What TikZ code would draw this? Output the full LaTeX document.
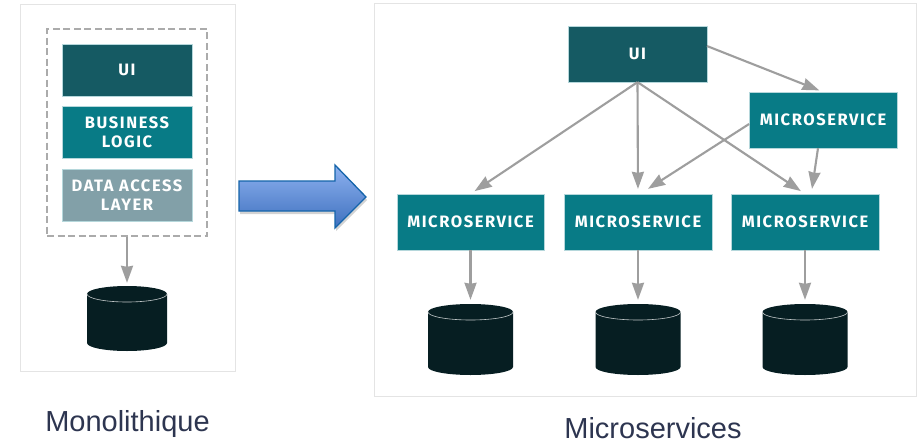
\documentclass[tikz,border=0pt]{standalone}
\usepackage{fontspec}
\setmainfont{Liberation Sans}
\newfontfamily\boxfont[LetterSpace=9.5]{Fira Sans}
\usetikzlibrary{shadows,calc,arrows.meta}
\definecolor{uicol}{HTML}{155A63}
\definecolor{svc}{HTML}{087B86}
\definecolor{dal}{HTML}{82A0A8}
\definecolor{dbcol}{HTML}{061E22}
\definecolor{panelline}{HTML}{E4E4E4}
\definecolor{dashcol}{HTML}{ABABAB}
\definecolor{arrowcol}{HTML}{9E9E9E}
\definecolor{captioncol}{HTML}{2D3550}
\tikzset{
  panel/.style={draw=panelline,line width=0.9pt,fill=white},
  tier/.style={rectangle,inner sep=0pt,minimum width=130.5pt,minimum height=52pt,align=center,text=white,font=\boxfont\bfseries\fontsize{16.5}{18.5}\selectfont,draw=white!70!svc,line width=0.3pt},
  uibox/.style={tier,fill=uicol},
  logicbox/.style={tier,fill=svc},
  dalbox/.style={tier,fill=dal},
  msbox/.style={tier,fill=svc,minimum width=147.5pt,minimum height=56pt},
  uibig/.style={tier,fill=uicol,minimum width=138.5pt,minimum height=56pt},
  conn/.style={draw=arrowcol,line width=2.1pt,-{Stealth[length=17pt,width=12pt,inset=1pt]}},
  dbbox/.style={rectangle,inner sep=0pt,draw=none},
  caption/.style={font=\fontsize{29}{32}\selectfont,text=captioncol,inner sep=0pt,anchor=base},
}
% name, centre x, top y, half width, total height
\newcommand{\dbcyl}[5]{%
  \fill[dbcol] (#2-#4,#3+8) arc[start angle=180,end angle=0,x radius=#4pt,y radius=8pt]
     -- (#2+#4,#3+#5-8) arc[start angle=0,end angle=-180,x radius=#4pt,y radius=8pt] -- cycle;
  \draw[white!75!dbcol,line width=0.6pt] (#2-#4,#3+8) arc[start angle=180,end angle=360,x radius=#4pt,y radius=8pt];
  \node[dbbox,minimum width=2*#4 pt,minimum height=#5 pt] (#1) at (#2,#3+#5/2) {};
}
\begin{document}
\begin{tikzpicture}[x=1pt,y=-1pt]
\useasboundingbox (0,0) rectangle (919,442);
% panels
\draw[panel] (20.5,4.5) rectangle (235,371.5);
\draw[panel] (374,3.5) rectangle (916,396);
% monolith
\node[uibox] (lui) at (127,70) {UI};
\node[logicbox] (lbl) at (127,132.5) {BUSINESS\\LOGIC};
\node[dalbox] (ldal) at (127,195) {DATA ACCESS\\LAYER};
\node[rectangle,draw=dashcol,line width=1.3pt,dash pattern=on 7pt off 3.5pt,minimum width=160pt,minimum height=207pt,inner sep=0pt] (ldash) at (127,132.5) {};
\dbcyl{ldb}{127}{286}{40}{65}
\draw[conn,shorten >=3pt] (ldash.south) -- (ldb.north);
% big arrow
\path[draw=black!0,drop shadow={shadow xshift=1pt,shadow yshift=-3pt,opacity=.35}] (239,181) -- (335,181) -- (335,165) -- (366,197) -- (335,228) -- (335,211) -- (239,211) -- cycle;
\path[draw={rgb,255:red,20;green,100;blue,170},line width=1.3pt,top color={rgb,255:red,142;green,178;blue,240},bottom color={rgb,255:red,62;green,112;blue,190},shading angle=0] (239,181) -- (335,181) -- (335,165) -- (366,197) -- (335,228) -- (335,211) -- (239,211) -- cycle;
% microservices
\node[uibig] (ui) at (637.5,54) {UI};
\node[msbox] (m4) at (823,120) {MICROSERVICE};
\node[msbox] (m1) at (470.5,222) {MICROSERVICE};
\node[msbox] (m2) at (638,222) {MICROSERVICE};
\node[msbox] (m3) at (805,222) {MICROSERVICE};
\dbcyl{d1}{470.5}{304}{42.5}{71}
\dbcyl{d2}{638}{304}{42.5}{71}
\dbcyl{d3}{805}{304}{42.5}{71}
\draw[conn,shorten >=5pt] (ui.south) -- (m1.north);
\draw[conn,shorten >=5pt] (ui.south) -- (m2.north);
\draw[conn,shorten >=5pt] (ui.south) -- (m3.north);
\draw[conn,shorten >=4pt] ([yshift=8pt]ui.east) -- (m4.north);
\draw[conn] ([yshift=-4pt]m4.west) -- ([xshift=10pt,yshift=5pt]m2.north);
\draw[conn] ([xshift=-5pt]m4.south) -- ([xshift=7pt,yshift=5pt]m3.north);
\draw[conn,shorten >=4pt] (m1.south) -- (d1.north);
\draw[conn,shorten >=4pt] (m2.south) -- (d2.north);
\draw[conn,shorten >=4pt] (m3.south) -- (d3.north);
% captions
\node[caption] (capl) at (127.5,431) {Monolithique};
\node[caption] (capr) at (653,438) {Microservices};
\end{tikzpicture}
\end{document}
